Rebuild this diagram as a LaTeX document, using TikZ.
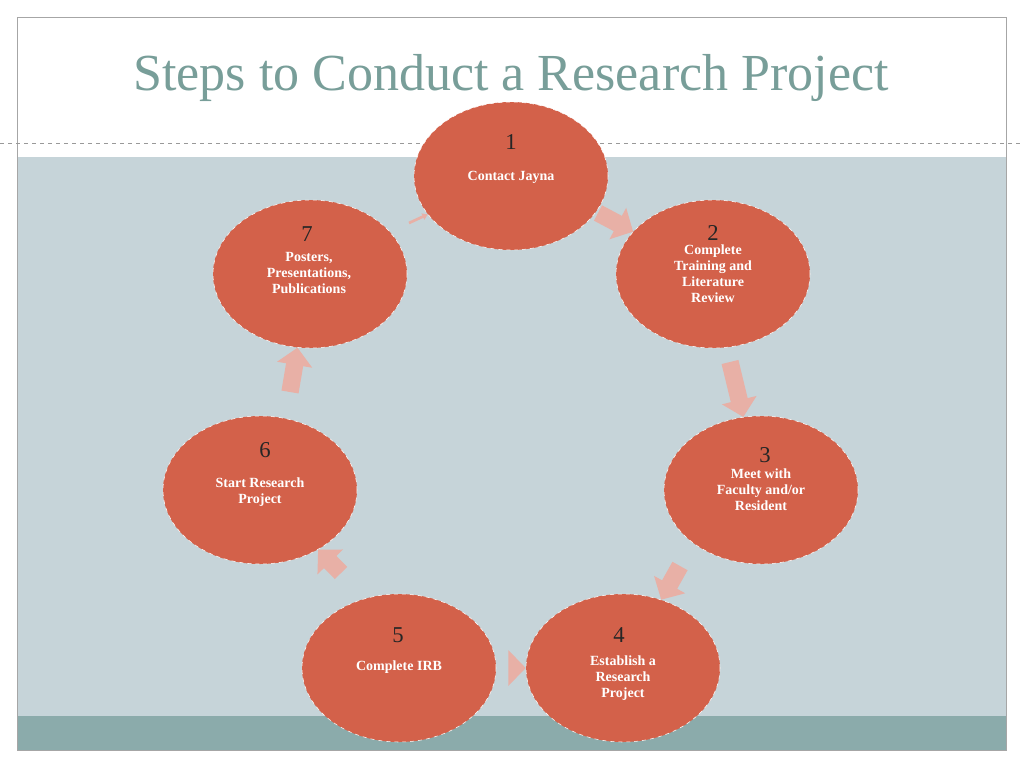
\documentclass[tikz,border=0pt]{standalone}
\usepackage{fontspec}
\setmainfont{Liberation Serif}
\usetikzlibrary{arrows.meta, positioning, shapes.geometric, calc}
\definecolor{rsred}{HTML}{D3614A}
\definecolor{rsbg}{HTML}{C6D4D9}
\definecolor{rsband}{HTML}{8BABAB}
\definecolor{rstitle}{HTML}{789E99}
\definecolor{rspink}{HTML}{E8B0A6}

\begin{document}
\begin{tikzpicture}[
  x=0.75pt, y=-0.75pt,
  stepnode/.style={ellipse, draw=white, dashed, fill=rsred, minimum width=145.5pt, minimum height=111pt, inner sep=0pt},
  num/.style={font=\fontsize{17}{20}\selectfont, text=black!85},
  lbl/.style={font=\bfseries\fontsize{10.5}{12}\selectfont, text=white, align=center},
  arw/.style={-{Triangle[length=13pt, width=26pt]}, line width=13pt, rspink},
]
\useasboundingbox (0,0) rectangle (1024,768);
\fill[white] (0,0) rectangle (1024,768);
\fill[rsbg] (17,157) rectangle (1006,716);
\fill[rsband] (17,716) rectangle (1006,750);
\draw[black!35] (17,17) rectangle (1006,750);
\draw[black!40, dashed] (0,143) -- (1024,143);
\node[font=\fontsize{39}{44}\selectfont, text=rstitle] (title) at (511,78) {Steps to Conduct a Research Project};

\node[stepnode] (s1) at (511,176) {};
\node[stepnode] (s2) at (713,274) {};
\node[stepnode] (s3) at (761,490) {};
\node[stepnode] (s4) at (623,668) {};
\node[stepnode] (s5) at (399,668) {};
\node[stepnode] (s6) at (260,490) {};
\node[stepnode] (s7) at (310,274) {};

% numbers
\node[num] (n1) at (511,142) {1};
\node[num] (n2) at (713,233) {2};
\node[num] (n3) at (765,455) {3};
\node[num] (n4) at (619,635) {4};
\node[num] (n5) at (398,635) {5};
\node[num] (n6) at (265,450) {6};
\node[num] (n7) at (307,234) {7};

% labels
\node[lbl] (l1) at (511,177) {Contact Jayna};
\node[lbl] (l2) at (713,274) {Complete\\Training and\\Literature\\Review};
\node[lbl] (l3) at (761,490) {Meet with\\Faculty and/or\\Resident};
\node[lbl] (l4) at (623,678) {Establish a\\Research\\Project};
\node[lbl] (l5) at (399,667) {Complete IRB};
\node[lbl] (l6) at (260,492) {Start Research\\Project};
\node[lbl] (l7) at (309,273) {Posters,\\Presentations,\\Publications};

% arrows
\draw[arw] (598,213) -- (s2);
\draw[arw] (730,362) -- (s3);
\draw[arw] (680,566) -- (s4);
\draw[arw] (516,668) -- (s4);
\draw[arw] (341,573) -- (s6);
\draw[arw] (290,392) -- (s7);
\draw[arw, line width=2pt, -{Triangle[length=4pt,width=5pt]}] (409,223) -- (s1);
\end{tikzpicture}
\end{document}
